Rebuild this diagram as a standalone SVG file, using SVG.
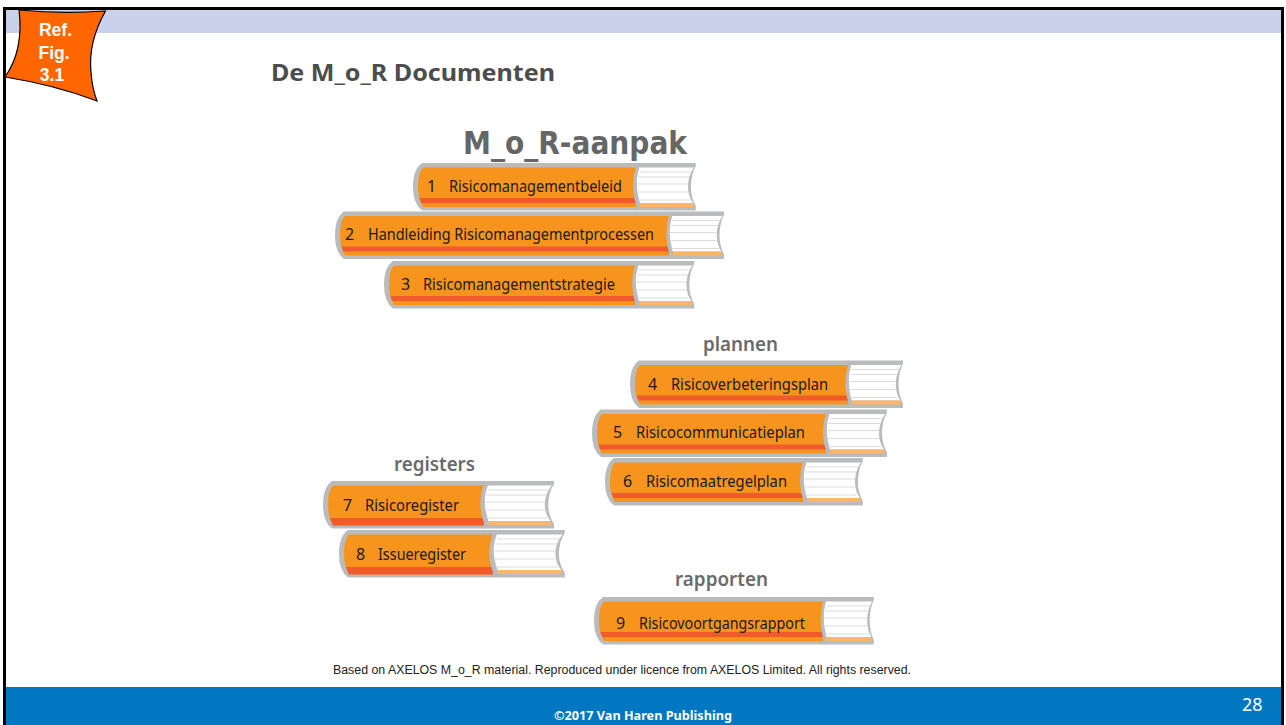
<svg xmlns="http://www.w3.org/2000/svg" width="1286" height="725" viewBox="0 0 1286 725">
<style>
.g{fill:#b9bbbd}.o{fill:#f7941e}.r{fill:#f15a29}
.l{stroke:#dcdcdc;stroke-width:1.2;fill:none}
.t{font-family:"Noto Sans","Open Sans",sans-serif;font-size:16px;fill:#1a1a1a}
.h{font-family:"DejaVu Sans",sans-serif;font-weight:bold;fill:#666}
.h2{font-family:"Noto Sans",sans-serif;font-weight:600;font-size:19px;fill:#6a6a6a}
</style>
<defs>
<g id="cap">
<path class="g" d="M16,0H9Q0,6 0,24Q0,41 9,47.500H16Z"/>
<path class="o" d="M16,4.500H10Q5,9 5,23Q5,37 10,44H16Z"/>
</g>
<path id="s1" class="r" d="M16,35H6.500L8.500,40H16Z"/>
<path id="s2" class="r" d="M16,37H7L10,44.500H16Z"/>
<g id="pages">
<path class="g" d="M-1,0H60V3Q55,12 55,24Q55,34 60,43V47.500H-1Z"/>
<path fill="#fff" d="M1,4.500H58Q52,13 52,24Q52,33 57,40H3Q-3,20 1,4.500Z"/>
<path fill="#fdb56a" d="M3,40H57L58,44H3Z"/>
<path class="l" d="M3,9H55M1,14H53M0,21H52M0,29H52M1,37H54"/>
<path d="M1,3Q-6,24 2,45" fill="none" stroke="#b9bbbd" stroke-width="3.500"/>
</g>
</defs>
<rect width="1286" height="725" fill="#fff"/>
<rect x="6" y="10" width="1275" height="23" fill="#c9d2e8"/>
<rect x="6" y="687" width="1275" height="38" fill="#0077c0"/>
<path d="M4.500,725V8.500H1282.500V725" fill="none" stroke="#000" stroke-width="3"/>
<g id="ref-badge">
<path d="M19,10Q60,14 105.500,11Q88,42 91,72Q92,88 97,101Q55,85 5,77Q24,50 19,10Z" fill="#f60" stroke="#000" stroke-width="1.200"/>
<g font-family="Liberation Sans,sans-serif" font-weight="bold" font-size="17.500" fill="#fff" text-anchor="middle">
<text x="55.500" y="36">Ref.</text><text x="54" y="59">Fig.</text><text x="52" y="81">3.1</text>
</g>
</g>
<text id="title" x="271" y="81" font-family="Noto Sans,sans-serif" font-weight="bold" font-size="23" fill="#4d4d4d" textLength="284" lengthAdjust="spacingAndGlyphs">De M_o_R Documenten</text>
<text id="h-aanpak" class="h" x="463" y="154" font-size="32" textLength="224" lengthAdjust="spacingAndGlyphs">M_o_R-aanpak</text>
<text id="h-plannen" class="h2" x="703" y="351" textLength="75" lengthAdjust="spacingAndGlyphs">plannen</text>
<text id="h-registers" class="h2" x="394" y="471" textLength="81" lengthAdjust="spacingAndGlyphs">registers</text>
<text id="h-rapporten" class="h2" x="675" y="586" textLength="93" lengthAdjust="spacingAndGlyphs">rapporten</text>

<g id="book1"><g transform="translate(413,163)"><use href="#cap"/><use href="#s1"/><rect class="g" x="16" width="208" height="47.500"/><rect class="o" x="16" y="4.500" width="208" height="39.500"/><rect class="r" x="16" y="35" width="208" height="5"/><use href="#pages" transform="translate(224,0) scale(.98,1)"/></g><text class="t" x="427" y="192">1</text><text class="t" x="449" y="192" textLength="173" lengthAdjust="spacingAndGlyphs">Risicomanagementbeleid</text></g>
<g id="book2"><g transform="translate(335,211.500)"><use href="#cap"/><use href="#s1"/><rect class="g" x="16" width="319" height="47.500"/><rect class="o" x="16" y="4.500" width="319" height="39.500"/><rect class="r" x="16" y="35" width="319" height="5"/><use href="#pages" transform="translate(335,0) scale(.9,1)"/></g><text class="t" x="345" y="240">2</text><text class="t" x="368" y="240" textLength="286" lengthAdjust="spacingAndGlyphs">Handleiding Risicomanagementprocessen</text></g>
<g id="book3"><g transform="translate(384,261)"><use href="#cap"/><use href="#s1"/><rect class="g" x="16" width="236" height="47.500"/><rect class="o" x="16" y="4.500" width="236" height="39.500"/><rect class="r" x="16" y="35" width="236" height="5"/><use href="#pages" transform="translate(252,0) scale(.97,1)"/></g><text class="t" x="401" y="290">3</text><text class="t" x="423" y="290" textLength="192" lengthAdjust="spacingAndGlyphs">Risicomanagementstrategie</text></g>
<g id="book4"><g transform="translate(630,360.500)"><use href="#cap"/><use href="#s1"/><rect class="g" x="16" width="203" height="47.500"/><rect class="o" x="16" y="4.500" width="203" height="39.500"/><rect class="r" x="16" y="35" width="203" height="5"/><use href="#pages" transform="translate(219,0) scale(.9,1)"/></g><text class="t" x="648" y="390">4</text><text class="t" x="671" y="390" textLength="157" lengthAdjust="spacingAndGlyphs">Risicoverbeteringsplan</text></g>
<g id="book5"><g transform="translate(592,409.500)"><use href="#cap"/><use href="#s1"/><rect class="g" x="16" width="219" height="47.500"/><rect class="o" x="16" y="4.500" width="219" height="39.500"/><rect class="r" x="16" y="35" width="219" height="5"/><use href="#pages" transform="translate(235,0)"/></g><text class="t" x="613" y="438">5</text><text class="t" x="636" y="438" textLength="169" lengthAdjust="spacingAndGlyphs">Risicocommunicatieplan</text></g>
<g id="book6"><g transform="translate(605,458)"><use href="#cap"/><use href="#s1"/><rect class="g" x="16" width="183" height="47.500"/><rect class="o" x="16" y="4.500" width="183" height="39.500"/><rect class="r" x="16" y="35" width="183" height="5"/><use href="#pages" transform="translate(199,0) scale(.98,1)"/></g><text class="t" x="623" y="487">6</text><text class="t" x="646" y="487" textLength="141" lengthAdjust="spacingAndGlyphs">Risicomaatregelplan</text></g>
<g id="book7"><g transform="translate(323,481)"><use href="#cap"/><use href="#s2"/><rect class="g" x="16" width="146" height="47.500"/><rect class="o" x="16" y="4.500" width="146" height="40"/><rect class="r" x="16" y="37" width="146" height="7.500"/><use href="#pages" transform="translate(162,0) scale(1.150,1)"/></g><text class="t" x="343" y="511">7</text><text class="t" x="365" y="511" textLength="94" lengthAdjust="spacingAndGlyphs">Risicoregister</text></g>
<g id="book8"><g transform="translate(339,530)"><use href="#cap"/><use href="#s2"/><rect class="g" x="16" width="139" height="47.500"/><rect class="o" x="16" y="4.500" width="139" height="40"/><rect class="r" x="16" y="37" width="139" height="7.500"/><use href="#pages" transform="translate(155,0) scale(1.180,1)"/></g><text class="t" x="356" y="560">8</text><text class="t" x="378" y="560" textLength="88" lengthAdjust="spacingAndGlyphs">Issueregister</text></g>
<g id="book9"><g transform="translate(594,597)"><use href="#cap"/><use href="#s1"/><rect class="g" x="16" width="214" height="47.500"/><rect class="o" x="16" y="4.500" width="214" height="40"/><rect class="r" x="16" y="35" width="214" height="5"/><use href="#pages" transform="translate(230,0) scale(.83,1)"/></g><text class="t" x="616" y="628.500">9</text><text class="t" x="639" y="628.500" textLength="166" lengthAdjust="spacingAndGlyphs">Risicovoortgangsrapport</text></g>

<text id="credit" x="333" y="674" font-family="Liberation Sans,sans-serif" font-size="12" fill="#222" textLength="578" lengthAdjust="spacingAndGlyphs">Based on AXELOS M_o_R material. Reproduced under licence from AXELOS Limited. All rights reserved.</text>
<text id="copyright" x="554" y="720" font-family="Noto Sans,sans-serif" font-weight="bold" font-size="13" fill="#fff" textLength="178" lengthAdjust="spacingAndGlyphs">©2017 Van Haren Publishing</text>
<text id="page" x="1242" y="711" font-family="Noto Sans,sans-serif" font-size="18" fill="#fff">28</text>
</svg>
